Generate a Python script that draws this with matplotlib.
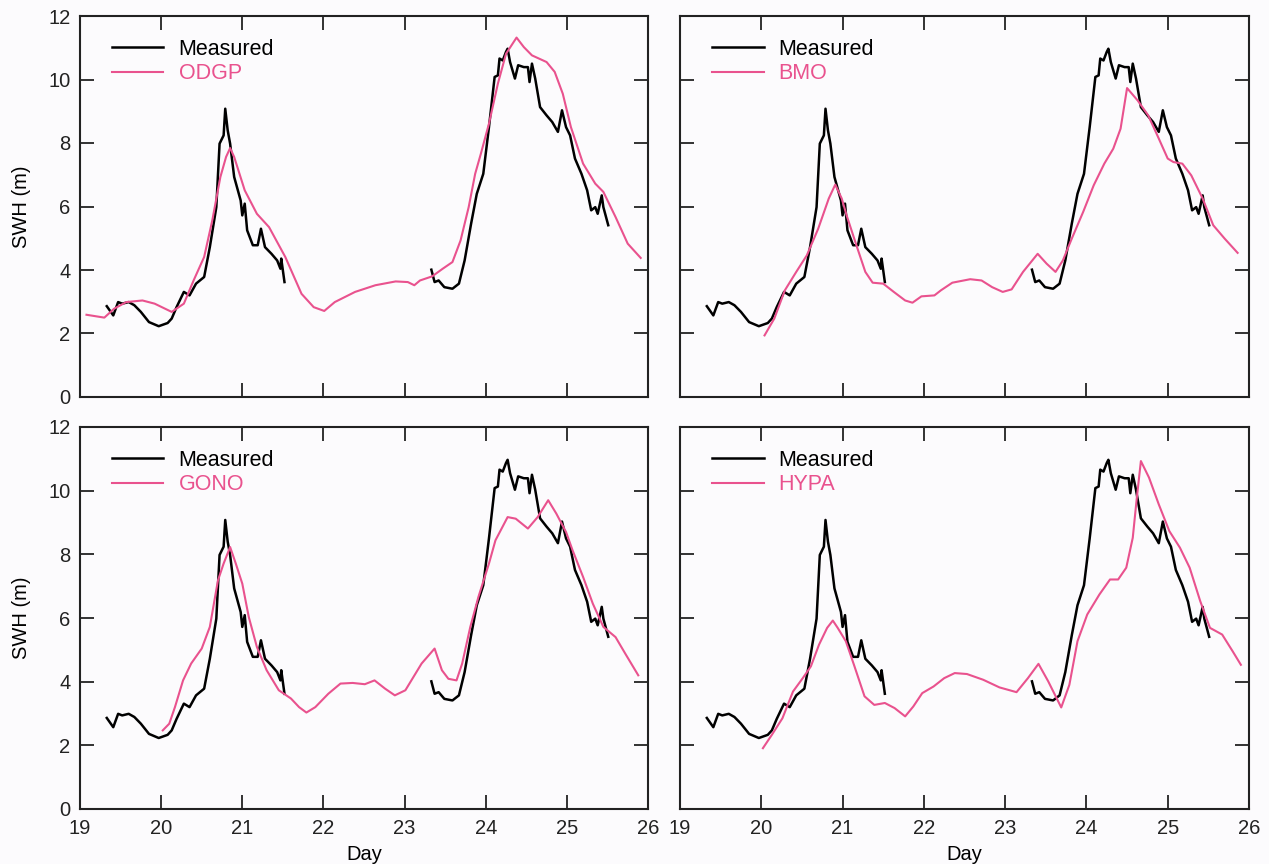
import numpy as np
import matplotlib
matplotlib.use('Agg')
import matplotlib.pyplot as plt

plt.rcParams['font.family'] = ['Liberation Sans', 'DejaVu Sans']

# measured wave height (two records, gap in between)
meas_day = [19.33, 19.41, 19.47, 19.52, 19.60, 19.67, 19.75, 19.85, 19.97, 20.08,
            20.13, 20.19, 20.28, 20.35, 20.43, 20.53, 20.60, 20.68, 20.72, 20.77,
            20.79, 20.82, 20.85, 20.90, 20.98, 21.00, 21.03, 21.06, 21.13, 21.19,
            21.23, 21.28, 21.36, 21.43, 21.47, 21.48, 21.52,
            np.nan,
            23.33, 23.37, 23.42, 23.49, 23.59, 23.67, 23.74, 23.82, 23.89, 23.97,
            24.04, 24.11, 24.15, 24.17, 24.21, 24.25, 24.27, 24.30, 24.36, 24.40,
            24.47, 24.52, 24.54, 24.57, 24.61, 24.67, 24.75, 24.82, 24.89, 24.94,
            24.99, 25.04, 25.10, 25.18, 25.25, 25.30, 25.35, 25.38, 25.43, 25.45,
            25.51]
meas_swh = [2.86, 2.57, 2.99, 2.94, 2.99, 2.89, 2.68, 2.36, 2.23, 2.33,
            2.47, 2.83, 3.31, 3.20, 3.57, 3.78, 4.72, 5.98, 7.98, 8.24,
            9.08, 8.40, 7.98, 6.93, 6.19, 5.72, 6.09, 5.25, 4.78, 4.78,
            5.30, 4.72, 4.51, 4.30, 4.04, 4.36, 3.62,
            np.nan,
            4.01, 3.62, 3.67, 3.46, 3.41, 3.57, 4.30, 5.46, 6.40, 7.03,
            8.50, 10.08, 10.13, 10.66, 10.60, 10.87, 10.97, 10.55, 10.03, 10.45,
            10.39, 10.39, 9.92, 10.50, 10.03, 9.13, 8.87, 8.66, 8.35, 9.03,
            8.50, 8.24, 7.51, 7.03, 6.51, 5.88, 5.98, 5.77, 6.35, 5.98,
            5.41]

odgp_day = [19.08, 19.30, 19.42, 19.57, 19.77, 19.92, 20.13, 20.28, 20.40, 20.53,
            20.63, 20.73, 20.80, 20.85, 20.90, 21.03, 21.18, 21.33, 21.53, 21.73,
            21.88, 22.01, 22.14, 22.39, 22.64, 22.89, 23.04, 23.12, 23.19, 23.34,
            23.47, 23.59, 23.69, 23.79, 23.87, 23.94, 24.04, 24.15, 24.25, 24.38,
            24.47, 24.57, 24.75, 24.85, 24.95, 25.05, 25.20, 25.35, 25.45, 25.60,
            25.75, 25.91]
odgp_swh = [2.59, 2.50, 2.78, 2.99, 3.04, 2.94, 2.68, 2.94, 3.67, 4.41,
            5.56, 6.93, 7.56, 7.84, 7.56, 6.51, 5.77, 5.35, 4.41, 3.25,
            2.83, 2.71, 2.99, 3.31, 3.52, 3.64, 3.62, 3.52, 3.67, 3.80,
            4.04, 4.25, 4.93, 5.98, 7.03, 7.66, 8.61, 9.87, 10.81, 11.32,
            11.02, 10.76, 10.55, 10.24, 9.55, 8.50, 7.35, 6.72, 6.46, 5.67,
            4.83, 4.38]

bmo_day = [20.04, 20.16, 20.29, 20.43, 20.56, 20.70, 20.83, 20.91, 20.99, 21.05,
           21.17, 21.28, 21.37, 21.50, 21.63, 21.77, 21.86, 21.97, 22.13, 22.21,
           22.35, 22.57, 22.71, 22.84, 22.97, 23.08, 23.22, 23.40, 23.51, 23.62,
           23.71, 23.82, 23.96, 24.09, 24.22, 24.33, 24.42, 24.50, 24.63, 24.76,
           24.89, 25.00, 25.07, 25.18, 25.29, 25.43, 25.56, 25.70, 25.86]
bmo_swh = [1.94, 2.47, 3.36, 3.94, 4.46, 5.30, 6.25, 6.69, 6.25, 5.72,
           4.78, 3.94, 3.60, 3.57, 3.31, 3.04, 2.97, 3.17, 3.20, 3.36,
           3.60, 3.71, 3.67, 3.46, 3.31, 3.39, 3.94, 4.51, 4.20, 3.94,
           4.30, 4.99, 5.83, 6.67, 7.35, 7.82, 8.45, 9.73, 9.34, 8.87,
           8.14, 7.51, 7.40, 7.35, 6.98, 6.25, 5.41, 4.99, 4.54]

gono_day = [20.02, 20.10, 20.17, 20.27, 20.37, 20.50, 20.60, 20.70, 20.77, 20.85,
            20.92, 21.00, 21.08, 21.18, 21.30, 21.45, 21.60, 21.70, 21.79, 21.90,
            22.06, 22.21, 22.36, 22.51, 22.63, 22.76, 22.88, 23.01, 23.11, 23.21,
            23.37, 23.46, 23.54, 23.64, 23.71, 23.81, 23.91, 24.04, 24.12, 24.27,
            24.37, 24.52, 24.64, 24.77, 24.87, 24.99, 25.07, 25.20, 25.32, 25.45,
            25.60, 25.72, 25.88]
gono_swh = [2.47, 2.68, 3.20, 4.04, 4.57, 5.04, 5.72, 7.18, 7.71, 8.23,
            7.71, 7.08, 6.03, 5.09, 4.36, 3.73, 3.47, 3.20, 3.03, 3.20,
            3.62, 3.94, 3.96, 3.92, 4.04, 3.78, 3.57, 3.73, 4.15, 4.57,
            5.04, 4.36, 4.09, 4.04, 4.57, 5.72, 6.66, 7.71, 8.44, 9.17,
            9.12, 8.81, 9.17, 9.70, 9.28, 8.70, 8.13, 7.29, 6.45, 5.72,
            5.40, 4.88, 4.20]

hypa_day = [20.02, 20.13, 20.26, 20.39, 20.51, 20.61, 20.71, 20.81, 20.88, 20.94,
            21.04, 21.14, 21.27, 21.39, 21.52, 21.64, 21.77, 21.87, 21.98, 22.12,
            22.25, 22.38, 22.53, 22.73, 22.93, 23.14, 23.28, 23.41, 23.53, 23.69,
            23.79, 23.89, 24.01, 24.16, 24.29, 24.39, 24.49, 24.57, 24.62, 24.67,
            24.77, 24.89, 25.02, 25.15, 25.27, 25.40, 25.52, 25.67, 25.80, 25.90]
hypa_swh = [1.91, 2.33, 2.85, 3.69, 4.11, 4.48, 5.16, 5.69, 5.92, 5.69,
            5.27, 4.53, 3.54, 3.27, 3.33, 3.17, 2.91, 3.22, 3.64, 3.85,
            4.11, 4.27, 4.24, 4.06, 3.82, 3.67, 4.11, 4.56, 4.01, 3.19,
            3.90, 5.27, 6.11, 6.74, 7.21, 7.21, 7.58, 8.52, 9.78, 10.93,
            10.41, 9.57, 8.73, 8.21, 7.58, 6.53, 5.69, 5.48, 4.95, 4.53]

model_names = ['ODGP', 'BMO', 'GONO', 'HYPA']
model_days = [odgp_day, bmo_day, gono_day, hypa_day]
model_swh = [odgp_swh, bmo_swh, gono_swh, hypa_swh]

pink = '#e9528e'
bg = '#fcfbfd'

fig = plt.figure(figsize=(12.69, 8.64), dpi=100, facecolor=bg)
W, H = 1269, 864
boxes = [(80, 16, 648, 397), (680, 16, 1249, 397),
         (80, 427, 648, 809), (680, 427, 1249, 809)]

for i, (x0, y0, x1, y1) in enumerate(boxes):
    ax = fig.add_axes([x0 / W, 1 - y1 / H, (x1 - x0) / W, (y1 - y0) / H])
    ax.set_facecolor(bg)
    ax.plot(meas_day, meas_swh, color='black', lw=1.8, label='Measured')
    ax.plot(model_days[i], model_swh[i], color=pink, lw=1.5, label=model_names[i])
    ax.set_xlim(19, 26)
    ax.set_ylim(0, 12)
    ax.set_xticks(range(19, 27))
    ax.set_yticks(range(0, 13, 2))
    ax.tick_params(direction='in', length=10, width=1.3, top=True, right=True,
                   labelsize=14.5, pad=7, colors='#222222')
    for s in ax.spines.values():
        s.set_linewidth(1.5)
        s.set_color('#222222')
    if i < 2:
        ax.tick_params(labelbottom=False)
    else:
        ax.set_xlabel('Day', fontsize=14.5, labelpad=5)
    if i % 2 == 1:
        ax.tick_params(labelleft=False)
    else:
        ax.set_ylabel('SWH (m)', fontsize=14.5, labelpad=12)
    ax.legend(loc='upper left', bbox_to_anchor=(0.056, 0.94), frameon=False,
              fontsize=15.5, handlelength=2.4, handletextpad=0.7, labelspacing=0.15,
              borderpad=0, borderaxespad=0, labelcolor='linecolor')

fig.savefig('out.png', dpi=100, facecolor=bg)
